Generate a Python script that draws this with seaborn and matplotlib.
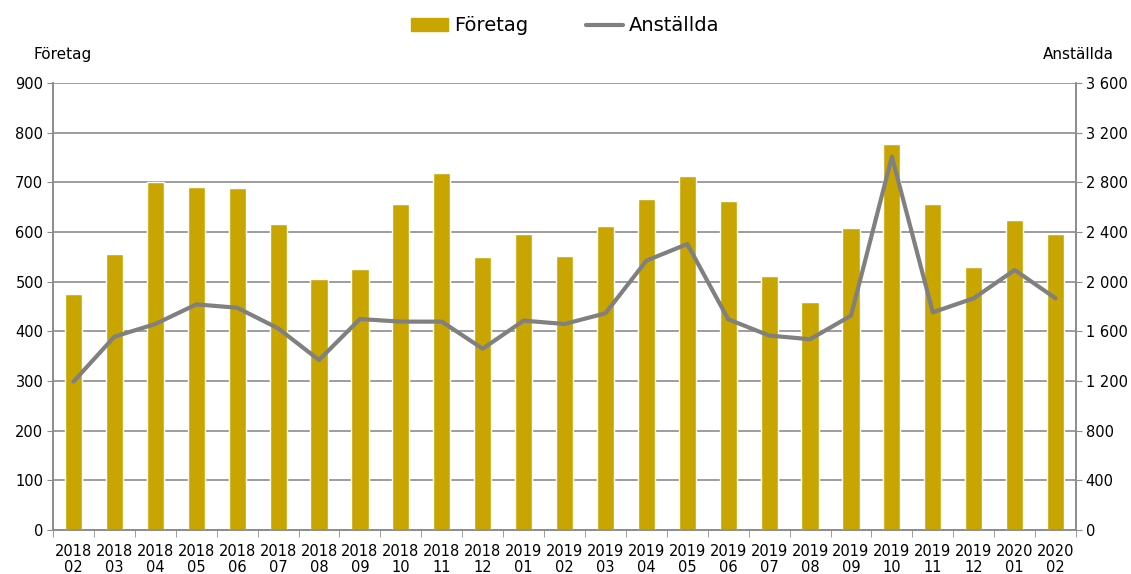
import numpy as np
import pandas as pd
import seaborn as sns
import matplotlib.pyplot as plt
from matplotlib.patches import Patch
from matplotlib.lines import Line2D

months = ["2018\n02", "2018\n03", "2018\n04", "2018\n05", "2018\n06", "2018\n07",
          "2018\n08", "2018\n09", "2018\n10", "2018\n11", "2018\n12", "2019\n01",
          "2019\n02", "2019\n03", "2019\n04", "2019\n05", "2019\n06", "2019\n07",
          "2019\n08", "2019\n09", "2019\n10", "2019\n11", "2019\n12", "2020\n01",
          "2020\n02"]
foretag = [475, 556, 701, 691, 689, 616, 505, 525, 656, 719, 550, 595, 552,
           612, 666, 712, 662, 512, 460, 608, 778, 656, 529, 625, 595]
anstallda = [1195, 1557, 1659, 1817, 1790, 1624, 1369, 1699, 1678, 1678, 1460,
             1686, 1659, 1745, 2169, 2303, 1697, 1566, 1536, 1726, 3007, 1753,
             1866, 2094, 1866]

bar_color = "#C9A500"
line_color = "#808080"
grid_color = "#8C8C8C"

sns.set_style("white")
plt.rcParams["font.family"] = ["DejaVu Sans"]
plt.rcParams["text.color"] = "black"
plt.rcParams["xtick.color"] = "black"
plt.rcParams["ytick.color"] = "black"

df = pd.DataFrame({"month": months, "foretag": foretag, "anstallda": anstallda})

fig = plt.figure(figsize=(11.31, 5.74), dpi=100)
ax = fig.add_axes([0.0469, 0.0767, 0.9045, 0.7787])

sns.barplot(data=df, x="month", y="foretag", color=bar_color, width=0.42,
            saturation=1, ax=ax, zorder=3)
ax.set_xlim(-0.5, len(months) - 0.5)
ax.set_ylim(0, 900)
ax.set_yticks(range(0, 901, 100))
ax.yaxis.grid(True, color=grid_color, linewidth=1.2, zorder=0)
ax.set_axisbelow(True)
ax.set_xlabel("")
ax.set_ylabel("")

ax2 = ax.twinx()
sns.lineplot(x=np.arange(len(months)), y=df["anstallda"], color=line_color,
             linewidth=3, sort=False, ax=ax2)
ax2.set_ylim(0, 3600)
ax2.set_yticks(range(0, 3601, 400))
ax2.set_yticklabels([f"{v:,}".replace(",", " ") for v in range(0, 3601, 400)])
ax2.set_ylabel("")
ax2.set_xlim(-0.5, len(months) - 0.5)

for a in (ax, ax2):
    a.spines["top"].set_visible(False)
    for side in ("left", "right", "bottom"):
        a.spines[side].set_color(grid_color)
        a.spines[side].set_linewidth(1.2)

ax.tick_params(axis="y", length=4, color=grid_color, labelcolor="black",
               labelsize=10.5, pad=3, left=True)
ax2.tick_params(axis="y", length=4, color=grid_color, labelcolor="black",
                labelsize=10.5, pad=3, right=True)

# category separators as minor ticks
ax.set_xticks(np.arange(len(months)))
ax.set_xticklabels(months, fontsize=10.5, linespacing=1.1)
ax.set_xticks(np.arange(-0.5, len(months)), minor=True)
ax.tick_params(axis="x", which="major", length=0, pad=10, labelcolor="black")
ax.tick_params(axis="x", which="minor", length=5, color=grid_color,
               bottom=True)

fig.text(0.03, 0.905, "Företag", fontsize=11, ha="left", va="center")
fig.text(0.985, 0.905, "Anställda", fontsize=11, ha="right", va="center")

handles = [Patch(facecolor=bar_color, edgecolor=bar_color, label="Företag"),
           Line2D([0], [0], color=line_color, linewidth=3, label="Anställda")]
fig.legend(handles=handles, loc="center", bbox_to_anchor=(0.5, 0.955),
           ncol=2, frameon=False, fontsize=14, handlelength=1.9,
           handletextpad=0.3, columnspacing=3.0)

fig.savefig("out.png", dpi=100)
